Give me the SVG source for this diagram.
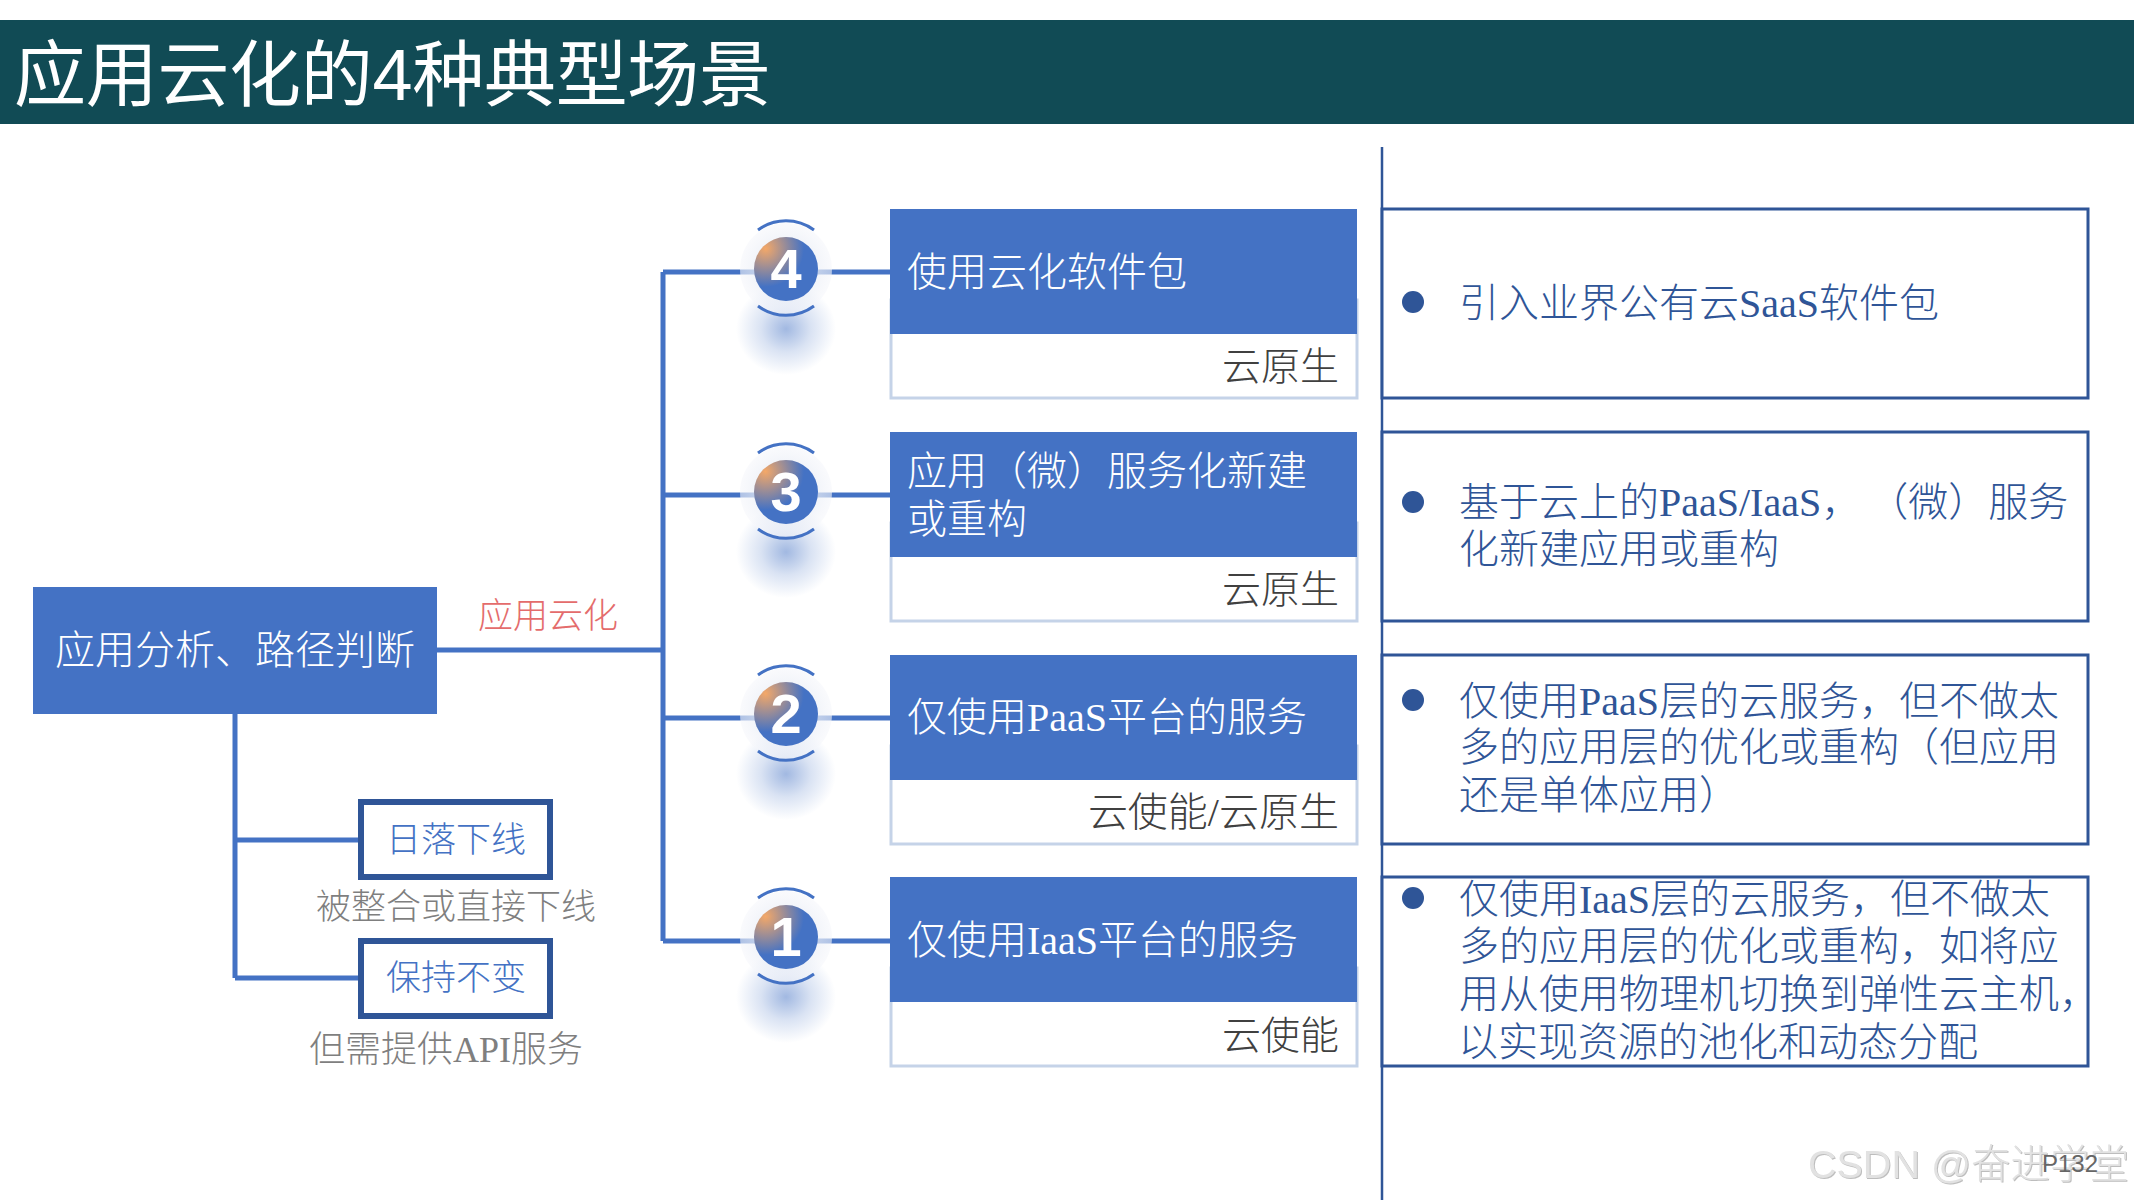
<svg xmlns="http://www.w3.org/2000/svg" width="2134" height="1200" viewBox="0 0 2134 1200">
<style>
text{font-family:"Liberation Serif","Noto Sans CJK SC",serif;font-weight:300}
.t40{font-size:40px}.t35{font-size:35px}
.w{fill:#fff}.d{fill:#404040}.g{fill:#7f7f7f}.b{fill:#4472c4}.r{fill:#2f5597;font-size:40px}
.blue{fill:#4472c4}
.lab{fill:#fff;stroke:#c5d3e8;stroke-width:3}
.rb{fill:#fff;stroke:#2f5597;stroke-width:3}
.sb{fill:#fff;stroke:#2f5597;stroke-width:6}
.c{fill:none;stroke:#4472c4;stroke-width:5}
.num{font-family:"Liberation Sans",sans-serif;font-size:56px;font-weight:700;fill:#fff;text-anchor:middle}
.arc{fill:none;stroke:#4472c4;stroke-width:3}
</style>
<defs>
<radialGradient id="shadow"><stop offset="0" stop-color="#4472c4" stop-opacity=".5"/><stop offset=".5" stop-color="#4472c4" stop-opacity=".2"/><stop offset="1" stop-color="#4472c4" stop-opacity="0"/></radialGradient>
<radialGradient id="ball" cx=".18" cy=".18" r=".8"><stop offset="0" stop-color="#f4a868"/><stop offset=".75" stop-color="#4472c4"/><stop offset="1" stop-color="#4472c4"/></radialGradient>
<radialGradient id="halo"><stop offset="0" stop-color="#eef1f8"/><stop offset=".7" stop-color="#eef1f8" stop-opacity=".72"/><stop offset="1" stop-color="#f6f7fb" stop-opacity=".6"/></radialGradient>
<g id="badge">
<ellipse cx="0" cy="60" rx="50" ry="46" fill="url(#shadow)"/>
<circle r="46" fill="url(#halo)"/>
<path class="arc" d="M-28-39A47 47 0 0 1 28-39M-28 37A47 47 0 0 0 28 37"/>
<circle r="32" fill="url(#ball)"/>
</g>
</defs>
<rect width="2134" height="1200" fill="#fff"/>
<g id="header"><rect y="20" width="2134" height="104" fill="#114b55"/>
<text x="14" y="100" font-size="72" fill="#fff" style="font-family:'Liberation Sans','Noto Sans CJK SC',sans-serif;font-weight:400;letter-spacing:-.3px">应用云化的4种典型场景</text></g>
<g id="connectors">
<path class="c" d="M437 650H663M663 272V941M663 272H890M663 495H890M663 718H890M663 941H890"/>
<path class="c" d="M235 714V978M235 840H360M235 978H360"/>
<path d="M1382 147V1200" fill="none" stroke="#2f5597" stroke-width="2.5"/>
</g>
<g id="root"><rect class="blue" x="33" y="587" width="404" height="127"/><text class="t40 w" x="235" y="664" text-anchor="middle">应用分析、路径判断</text></g>
<text id="edge-label" class="t35" x="478" y="628" fill="#e46c6c">应用云化</text>
<g id="sunset"><rect class="sb" x="361" y="802" width="189" height="75"/><text class="t35 b" x="456" y="852" text-anchor="middle">日落下线</text><text class="t35 g" x="456" y="919" text-anchor="middle">被整合或直接下线</text></g>
<g id="keep"><rect class="sb" x="361" y="941" width="189" height="75"/><text class="t35 b" x="456" y="990" text-anchor="middle">保持不变</text><text class="g" font-size="36" x="446" y="1062" text-anchor="middle">但需提供API服务</text></g>
<g id="badge4"><use href="#badge" x="786" y="269"/><text class="num" x="786" y="288">4</text></g>
<g id="badge3"><use href="#badge" x="786" y="492"/><text class="num" x="786" y="511">3</text></g>
<g id="badge2"><use href="#badge" x="786" y="714"/><text class="num" x="786" y="733">2</text></g>
<g id="badge1"><use href="#badge" x="786" y="937"/><text class="num" x="786" y="956">1</text></g>
<g id="node4"><rect class="lab" x="891" y="300" width="466" height="98"/><rect class="blue" x="890" y="209" width="467" height="125"/><text class="t40 w" x="907" y="286">使用云化软件包</text><text class="d" font-size="39" x="1339" y="380" text-anchor="end">云原生</text></g>
<g id="node3"><rect class="lab" x="891" y="523" width="466" height="98"/><rect class="blue" x="890" y="432" width="467" height="125"/><text class="t40 w" x="907" y="485">应用（微）服务化新建</text><text class="t40 w" x="907" y="533">或重构</text><text class="d" font-size="39" x="1339" y="603" text-anchor="end">云原生</text></g>
<g id="node2"><rect class="lab" x="891" y="746" width="466" height="98"/><rect class="blue" x="890" y="655" width="467" height="125"/><text class="t40 w" x="907" y="731">仅使用PaaS平台的服务</text><text class="t40 d" x="1339" y="826" text-anchor="end">云使能/云原生</text></g>
<g id="node1"><rect class="lab" x="891" y="968" width="466" height="98"/><rect class="blue" x="890" y="877" width="467" height="125"/><text class="t40 w" x="907" y="954">仅使用IaaS平台的服务</text><text class="d" font-size="39" x="1339" y="1049" text-anchor="end">云使能</text></g>
<g id="desc4"><rect class="rb" x="1382" y="209" width="706" height="189"/><circle cx="1413" cy="302" r="11" fill="#2f5597"/><text class="r" x="1459" y="317">引入业界公有云SaaS软件包</text></g>
<g id="desc3"><rect class="rb" x="1382" y="432" width="706" height="189"/><circle cx="1413" cy="502" r="11" fill="#2f5597"/><text class="r" x="1459" y="516">基于云上的PaaS/IaaS，<tspan dx="27">（微）服务</tspan></text><text class="r" x="1459" y="563">化新建应用或重构</text></g>
<g id="desc2"><rect class="rb" x="1382" y="655" width="706" height="189"/><circle cx="1413" cy="700" r="11" fill="#2f5597"/><text class="r" x="1459" y="715">仅使用PaaS层的云服务，但不做太</text><text class="r" x="1459" y="761">多的应用层的优化或重构（但应用</text><text class="r" x="1459" y="809">还是单体应用）</text></g>
<g id="desc1"><rect class="rb" x="1382" y="877" width="706" height="189"/><circle cx="1413" cy="898" r="11" fill="#2f5597"/><text class="r" x="1459" y="913">仅使用IaaS层的云服务，但不做太</text><text class="r" x="1459" y="960">多的应用层的优化或重构，如将应</text><text class="r" x="1459" y="1008">用从使用物理机切换到弹性云主机，</text><text class="r" x="1458" y="1056">以实现资源的池化和动态分配</text></g>
<text id="watermark" x="1808" y="1178" font-size="39.5" fill="#e2e2e2" style="font-family:'Liberation Sans','Noto Sans CJK SC',sans-serif;filter:drop-shadow(1px 1px 0 #bdbdbd)">CSDN @奋进学堂</text>
<text id="page" x="2042" y="1172" font-size="24" fill="#666" style="font-family:'Liberation Sans',sans-serif">P132</text>
</svg>
